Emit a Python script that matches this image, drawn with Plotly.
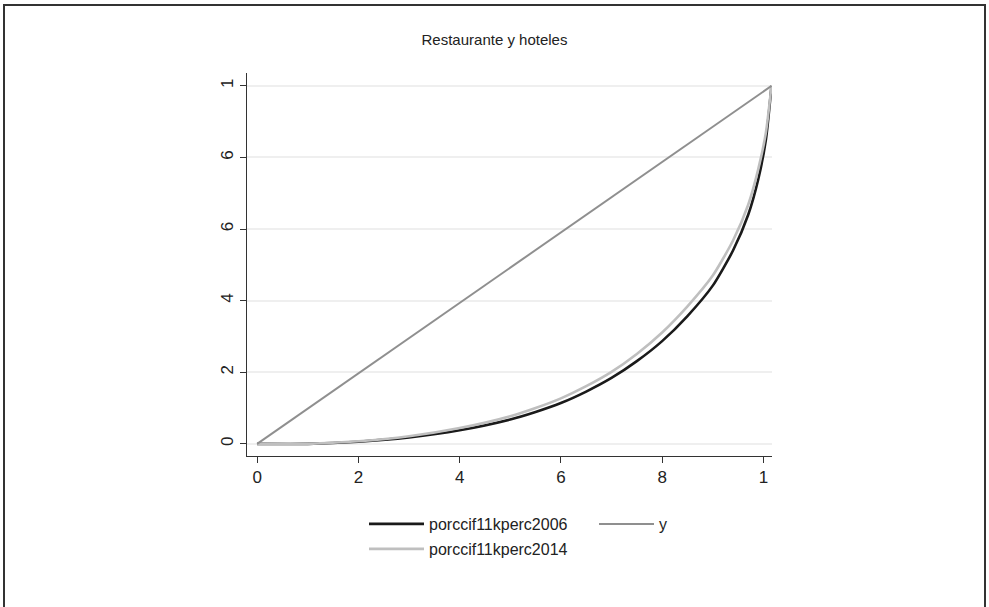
import plotly.graph_objects as go

# Cumulative population share (x) and cumulative share of the variable (y)
pop_share = [0.0, 0.1, 0.2, 0.3, 0.4, 0.5, 0.55, 0.6, 0.65, 0.7, 0.75, 0.8,
             0.85, 0.9, 0.94, 0.97, 0.99, 1.005, 1.016]
lorenz_2006 = [0.0, 0.0, 0.006, 0.018, 0.038, 0.068, 0.089, 0.114, 0.146,
               0.184, 0.231, 0.287, 0.357, 0.442, 0.54, 0.64, 0.74, 0.85, 1.0]
lorenz_2014 = [0.0, 0.0, 0.007, 0.021, 0.044, 0.077, 0.1, 0.127, 0.161,
               0.201, 0.251, 0.311, 0.384, 0.47, 0.568, 0.668, 0.768, 0.87, 1.0]
equality_x = [0.0, 1.016]
equality_y = [0.0, 1.0]

tick_vals = [0, 0.2, 0.4, 0.6, 0.8, 1.0]
x_tick_text = ["0", "2", "4", "6", "8", "1"]
y_tick_text = ["0", "2", "4", "6", "6", "1"]

FONT = "Liberation Sans, Arial, sans-serif"

# plot area in pixels: left 247, right 772, top 73, bottom 456
PL, PR, PT, PB = 247, 772, 73, 456
PW, PH = PR - PL, PB - PT


def px_x(px):
    return (px - PL) / PW


def px_y(py):
    return (PB - py) / PH


fig = go.Figure()
fig.add_trace(go.Scatter(x=pop_share, y=lorenz_2006, mode="lines",
                         name="porccif11kperc2006",
                         line=dict(color="#1a1a1a", width=2.6, shape="spline", smoothing=0.6),
                         legend="legend"))
fig.add_trace(go.Scatter(x=pop_share, y=lorenz_2014, mode="lines",
                         name="porccif11kperc2014",
                         line=dict(color="#bfbfbf", width=2.6, shape="spline", smoothing=0.6),
                         legend="legend2"))
fig.add_trace(go.Scatter(x=equality_x, y=equality_y, mode="lines",
                         name="y", line=dict(color="#8f8f8f", width=2),
                         legend="legend3"))

# outer frame around the whole graph
fig.add_shape(type="rect", xref="paper", yref="paper",
              x0=px_x(4), x1=px_x(985), y0=px_y(640), y1=px_y(5),
              line=dict(color="#333333", width=2), layer="below")

legend_common = dict(orientation="h", xanchor="left", yanchor="top",
                     font=dict(size=16, family=FONT, color="#222222"),
                     itemwidth=55, bgcolor="rgba(0,0,0,0)", visible=True)

fig.update_layout(
    width=989, height=607,
    showlegend=True,
    margin=dict(l=PL, r=989 - PR, t=PT, b=607 - PB),
    paper_bgcolor="white", plot_bgcolor="white",
    font=dict(family=FONT, size=14, color="#222222"),
    title=dict(text="Restaurante y hoteles", x=0.5, xanchor="center",
               y=1 - 40 / 607, yanchor="middle",
               font=dict(family=FONT, size=15, color="#222222")),
    xaxis=dict(range=[-0.02, 1.017], tickvals=tick_vals, ticktext=x_tick_text,
               showgrid=False, zeroline=False, showline=True, linecolor="#333333",
               linewidth=1, ticks="outside", ticklen=6, tickcolor="#333333",
               tickfont=dict(size=17)),
    yaxis=dict(range=[-0.034, 1.036], tickvals=tick_vals, ticktext=y_tick_text,
               showgrid=True, gridcolor="#efefef", gridwidth=1.5, zeroline=False,
               showline=True, linecolor="#333333", linewidth=1, ticks="outside",
               ticklen=6, tickcolor="#333333", tickangle=-90,
               tickfont=dict(size=17)),
    legend=dict(x=px_x(364), y=px_y(507), **legend_common),
    legend2=dict(x=px_x(364), y=px_y(532), **legend_common),
    legend3=dict(x=px_x(594), y=px_y(507), **legend_common),
)

fig.write_html("out.html")
